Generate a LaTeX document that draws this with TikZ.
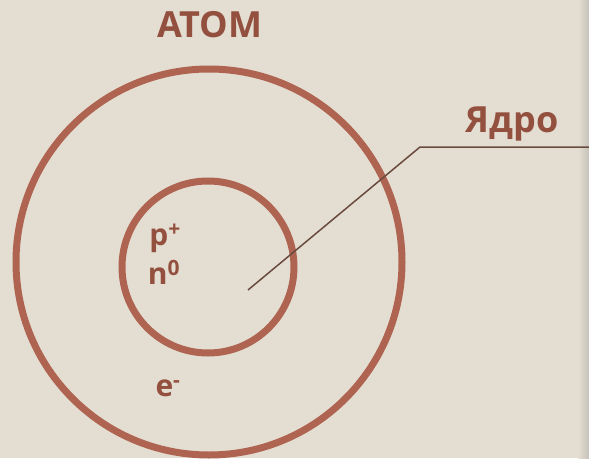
\documentclass[tikz,border=0pt]{standalone}
\usepackage{fontspec}
\setmainfont{Open Sans}
\begin{document}
\begin{tikzpicture}[x=1pt,y=-1pt,
  ring/.style={draw=ringc, line width=7pt},
  lbl/.style={text=txtc, font=\fontsize{36}{36}\selectfont\bfseries, inner sep=0pt},
  part/.style={text=txtc, font=\fontsize{30}{30}\selectfont\bfseries, inner sep=0pt}]
\definecolor{bg}{HTML}{E4DED2}
\definecolor{ringc}{HTML}{AE6450}
\definecolor{txtc}{HTML}{94503F}
\definecolor{linec}{HTML}{6A4A3E}
\useasboundingbox (0,0) rectangle (589,458);
\fill[bg] (0,0) rectangle (589,458);
\shade[left color=bg, right color=bg!70!gray] (578,0) rectangle (589,458);
\node[ring, circle, minimum size=386pt, inner sep=0pt] (atom) at (209,262) {};
\node[ring, circle, minimum size=172pt, inner sep=0pt] (core) at (208,267) {};
\node[lbl] (title) at (210,25) {АТОМ};
\node[lbl] (yadro) at (512,124) {Ядро};
\node[part] (p) at (165,238) {p\textsuperscript{+}};
\node[part] (n) at (164,272) {n\textsuperscript{0}};
\node[part] (e) at (168,388) {e\textsuperscript{-}};
\coordinate (tip) at (248,290);
\coordinate (bend) at (420,147);
\coordinate (end) at (589,147);
\draw[linec, line width=1.5pt] (tip) -- (bend) -- (end);
\end{tikzpicture}
\end{document}
